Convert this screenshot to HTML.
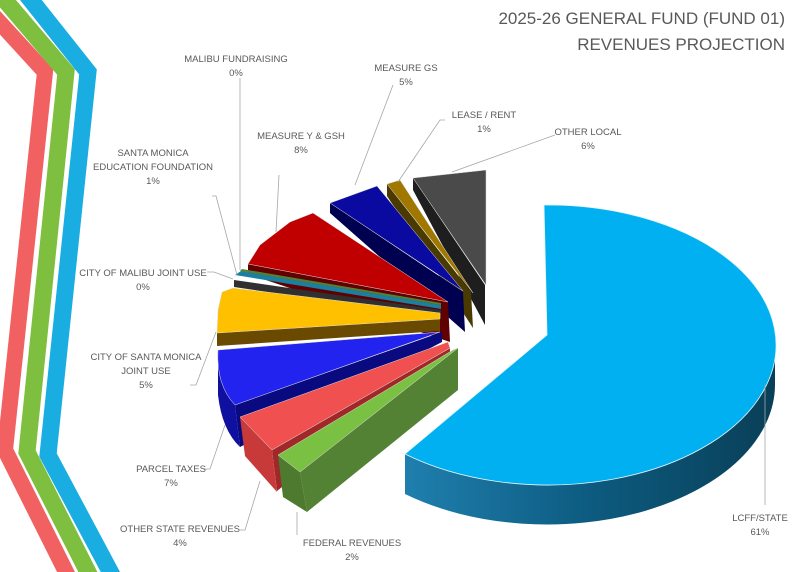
<!DOCTYPE html>
<html><head><meta charset="utf-8"><style>
html,body{margin:0;padding:0;background:#fff;}
svg{display:block;}
text{font-family:"Liberation Sans",sans-serif;fill:#595959;font-size:9.5px;}
.t{font-size:17px;text-anchor:end;}
.l{text-anchor:middle;}
.ld{stroke:#a6a6a6;stroke-width:0.8;fill:none;}
</style></head><body>
<svg width="800" height="572" viewBox="0 0 800 572">
<defs>
<linearGradient id="lg" x1="405" y1="0" x2="775" y2="0" gradientUnits="userSpaceOnUse">
<stop offset="0" stop-color="#1f7fae"/><stop offset="0.5" stop-color="#0d5b80"/><stop offset="1" stop-color="#093f58"/>
</linearGradient>
</defs>
<!-- stripes -->
<polyline points="-30,-10 45,72 5,450 75,590" fill="none" stroke="#f26161" stroke-width="16" stroke-linejoin="miter"/>
<polyline points="-8,-15 66,72 27,452 97,590" fill="none" stroke="#7fbf3f" stroke-width="17" stroke-linejoin="miter"/>
<polyline points="15,-20 88,72 48,455 120,590" fill="none" stroke="#1aade2" stroke-width="17" stroke-linejoin="miter"/>

<!-- title -->
<text class="t" x="785" y="24">2025-26 GENERAL FUND (FUND 01)</text>
<text class="t" x="785" y="50">REVENUES PROJECTION</text>

<!-- other local -->
<polygon points="413,178 485,285 485,325 413,190" fill="#1e1e1e"/>
<polygon points="413,178 486,170 486,285" fill="#4a4a4a" stroke="#ddd" stroke-width="0.5"/>
<!-- lease -->
<polygon points="387,184 471,292 473,328 387,196" fill="#4a3a00"/>
<polygon points="387,184 400,180 473,293" fill="#a07800" stroke="#ddd" stroke-width="0.5"/>
<!-- measure gs -->
<polygon points="330,203 463,292 465,332 330,213" fill="#000050"/>
<polygon points="330,203 377,186 463,291" fill="#0a0aa0" stroke="#ddd" stroke-width="0.5"/>
<!-- measure y -->
<polygon points="248,264 448,302 450,342 248,274" fill="#600000"/>
<polygon points="248,264 260,245 290,222 313,213 448,302" fill="#c00000" stroke="#ddd" stroke-width="0.5"/>
<!-- small slices -->
<polygon points="234,280 441,310 441,318 234,287" fill="#303030"/>
<polygon points="235,275 241,271 441,305 441,309" fill="#1a7fa0"/>
<polygon points="240,271 242,269 441,303 441,305" fill="#548235"/>
<!-- yellow -->
<polygon points="217,333 440,319 440,331 217,346" fill="#6a4a00"/>
<polygon points="222,292 233,288 440,313 440,319 217,333 218,310" fill="#ffc000" stroke="#ddd" stroke-width="0.5"/>
<!-- blue -->
<polygon points="235,405 442,332 442,342 240,447" fill="#0a0a80"/>
<path d="M218,350 Q216,385 235,405 L240,447 Q222,430 218,395 Z" fill="#1010a0"/>
<path d="M218,350 L440,332 L235,405 Q216,385 218,350 Z" fill="#2323f0" stroke="#ddd" stroke-width="0.5"/>
<!-- salmon -->
<polygon points="272,450 450,348 450,353 277,491" fill="#a02828"/>
<polygon points="240,417 272,450 277,492 245,456" fill="#c83a3a"/>
<polygon points="240,417 448,342 450,348 272,450" fill="#f05050" stroke="#ddd" stroke-width="0.5"/>
<!-- green -->
<polygon points="300,472 458,348 458,390 307,512" fill="#548235"/>
<polygon points="278,455 300,472 307,512 283,497" fill="#4e7a2f"/>
<polygon points="278,455 453,350 458,348 300,472" fill="#7ac143" stroke="#ddd" stroke-width="0.5"/>

<!-- LCFF -->
<path d="M775,345 A228,140 0 0 1 405,454 L405,494 A228,140 0 0 0 775,385 Z" fill="url(#lg)"/>
<path d="M544,205 A228,140 0 1 1 405,454 L547,335 Z" fill="#00b0f0" stroke="#e6f6fd" stroke-width="0.8"/>

<!-- leader lines -->
<polyline class="ld" points="240,78 240,270"/>
<polyline class="ld" points="393,85 355,185"/>
<polyline class="ld" points="445,120 440,120 398,182"/>
<polyline class="ld" points="555,135 452,172"/>
<polyline class="ld" points="279,175 276,232"/>
<polyline class="ld" points="212,196 216,196 237,275"/>
<polyline class="ld" points="207,272 214,272 233,279"/>
<polyline class="ld" points="190,385 196,385 216,332"/>
<polyline class="ld" points="203,469 210,469 225,425"/>
<polyline class="ld" points="240,530 245,530 260,481"/>
<polyline class="ld" points="297,535 297,512"/>
<polyline class="ld" points="765,505 765,385"/>

<!-- labels -->
<text class="l" x="236" y="62">MALIBU FUNDRAISING</text><text class="l" x="236" y="76">0%</text>
<text class="l" x="406" y="71">MEASURE GS</text><text class="l" x="406" y="85">5%</text>
<text class="l" x="484" y="118">LEASE / RENT</text><text class="l" x="484" y="132">1%</text>
<text class="l" x="588" y="135">OTHER LOCAL</text><text class="l" x="588" y="149">6%</text>
<text class="l" x="301" y="139">MEASURE Y &amp; GSH</text><text class="l" x="301" y="153">8%</text>
<text class="l" x="153" y="156">SANTA MONICA</text><text class="l" x="153" y="170">EDUCATION FOUNDATION</text><text class="l" x="153" y="184">1%</text>
<text class="l" x="143" y="276">CITY OF MALIBU JOINT USE</text><text class="l" x="143" y="290">0%</text>
<text class="l" x="146" y="360">CITY OF SANTA MONICA</text><text class="l" x="146" y="374">JOINT USE</text><text class="l" x="146" y="388">5%</text>
<text class="l" x="171" y="472">PARCEL TAXES</text><text class="l" x="171" y="486">7%</text>
<text class="l" x="180" y="532">OTHER STATE REVENUES</text><text class="l" x="180" y="546">4%</text>
<text class="l" x="352" y="546">FEDERAL REVENUES</text><text class="l" x="352" y="560">2%</text>
<text class="l" x="760" y="521">LCFF/STATE</text><text class="l" x="760" y="535">61%</text>
</svg>
</body></html>
